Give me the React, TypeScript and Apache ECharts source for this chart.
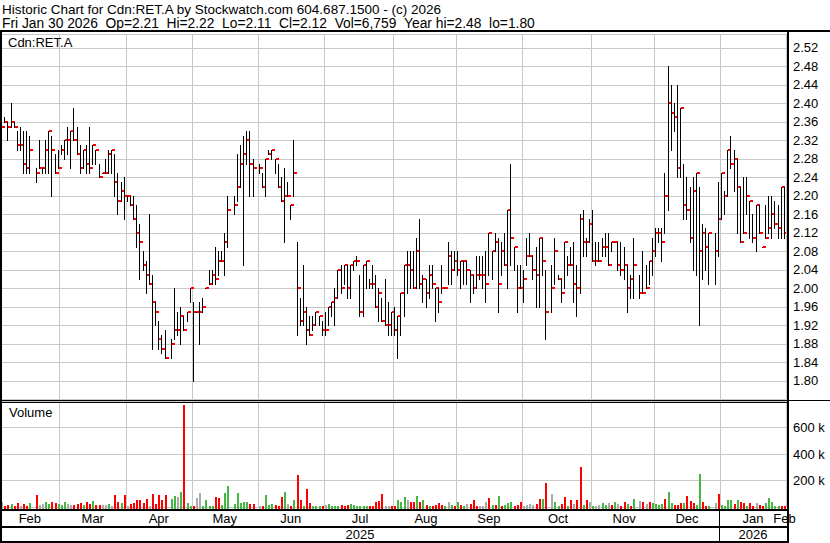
import React, { useEffect, useRef } from "react";
import * as echarts from "echarts";

// ---- texts ----
const titleLine1 = "Historic Chart for Cdn:RET.A by Stockwatch.com 604.687.1500 - (c) 2026";
const titleLine2 = "Fri Jan 30 2026  Op=2.21  Hi=2.22  Lo=2.11  Cl=2.12  Vol=6,759  Year hi=2.48  lo=1.80";
const symbolLabel = "Cdn:RET.A";
const volumeLabel = "Volume";

// ---- calendar (trading days per month, Feb 2025 .. Jan 2026) ----
const monthNames = ["Feb", "Mar", "Apr", "May", "Jun", "Jul", "Aug", "Sep", "Oct", "Nov", "Dec", "Jan"];
const monthDays = [19, 21, 21, 21, 21, 22, 20, 21, 22, 20, 21, 21];
const endMonthLabel = "Feb";
const yearLabels = ["2025", "2026"];

// ---- price axis ----
const priceMin = 1.76;
const priceMax = 2.55;
const priceStep = 0.04;
// ---- volume axis (thousands) ----
const volMin = 0;
const volMax = 800;
const volStep = 200;

// ---- daily highs / lows / closes (null = no trade) ----
const high = [
  2.39, 2.37, 2.36, 2.40, 2.36, 2.34, 2.35, 2.34, 2.34, 2.33, null, 2.26, 2.32, 2.26, 2.32, 2.34, 2.33, 2.29, 2.30,
  2.31, 2.32, 2.35, 2.34, 2.39, 2.35, 2.31, 2.30, 2.31, 2.35, 2.31, 2.30, 2.27, 2.25, 2.28, 2.30, 2.30, 2.29, 2.25, 2.23, 2.24,
  2.20, 2.20, 2.20, 2.18, 2.14, 2.08, 2.06, 2.16, 2.03, 1.97, 1.93, 1.90, 1.91, null, 1.89, 2.00, 1.95, 1.96, 1.94, 1.95, 2.00,
  1.97, 1.95, 1.97, 1.98, 2.00, 2.04, 2.04, 2.09, 2.08, 2.08, 2.12, 2.20, null, 2.20, 2.29, 2.31, 2.33, 2.34, 2.34, 2.28, null,
  2.27, 2.25, 2.28, 2.30, 2.30, 2.28, 2.27, 2.24, 2.26, 2.23, 2.18, 2.32, 2.10, 1.98, 2.05, 1.96, 1.94, 1.94, 1.95, 1.94, 1.93,
  1.95, 1.96, 1.97, 2.00, 2.04, 2.05, 2.05, 2.05, 2.05, 2.06, 2.07, 2.03, 2.05, 2.06, 2.02, 2.05, 2.03, 2.00, 1.98, 2.02, 1.97, 1.95,
  1.96, 1.94, 1.99, 2.05, 2.08, 2.08, 2.08, 2.11, 2.15, 2.03, 2.02, 2.05, 2.05, 2.00, 2.00, 2.05, 2.00, 2.10, 2.08, 2.08,
  2.08, 2.06, 2.06, 2.06, 2.04, 2.03, 2.07, 2.07, 2.07, 2.08, 2.12, 2.08, 2.12, 2.11, 2.10, 2.12, 2.17, 2.27, 2.09, 2.05, 2.05,
  2.04, 2.11, 2.12, 2.07, 2.09, 2.11, 2.11, 2.04, null, 2.05, 2.11, 2.03, 2.02, 2.10, 2.07, 2.09, 2.10, 2.05, 2.16, 2.17, 2.11, 2.15,
  2.17, 2.10, 2.10, 2.11, 2.12, 2.12, 2.10, 2.10, 2.10, 2.10, 2.09, 2.05, 2.03, 2.11, null, 2.03, 2.08, 2.05, 2.06, 2.11,
  2.13, 2.13, 2.13, 2.25, 2.48, 2.44, 2.40, 2.44, 2.39, 2.27, 2.24, 2.22, 2.24, 2.25, 2.22, 2.14, 2.13, 2.12, null, 2.12, 2.23,
  2.25, 2.21, 2.30, 2.33, 2.30, 2.28, 2.22, 2.24, 2.24, 2.19, 2.16, 2.18, 2.18, 2.09, 2.18, 2.20, 2.20, 2.19, 2.18, 2.22, 2.22,
];
const low = [
  2.27, 2.36, 2.32, 2.35, 2.35, 2.30, 2.30, 2.25, 2.25, 2.25, null, 2.23, 2.26, 2.25, 2.25, 2.25, 2.20, 2.25, 2.26,
  2.29, 2.28, 2.29, 2.26, 2.32, 2.29, 2.25, 2.26, 2.25, 2.25, 2.27, 2.27, 2.24, 2.25, 2.25, 2.25, 2.25, 2.20, 2.16, 2.19, 2.15,
  2.19, 2.18, 2.15, 2.09, 2.02, 2.04, 1.99, 2.01, 1.87, 1.92, 1.87, 1.86, 1.85, null, 1.85, 1.89, 1.90, 1.88, 1.91, 1.93, 1.97,
  1.80, 1.95, 1.88, 1.95, 2.00, 2.01, 2.01, 2.01, 2.03, 2.06, 2.03, 2.09, null, 2.16, 2.19, 2.22, 2.05, 2.27, 2.20, 2.20, null,
  2.25, 2.22, 2.20, 2.29, 2.28, 2.25, 2.22, 2.19, 2.10, 2.20, 2.15, 2.20, 1.90, 1.92, 1.92, 1.88, 1.90, 1.91, 1.92, 1.92, 1.90,
  1.90, 1.92, 1.94, 1.92, 1.98, 1.99, 2.01, 1.98, 1.98, 2.04, 2.05, 1.94, 1.94, 2.00, 2.00, 2.00, 1.96, 1.93, 1.93, 1.92, 1.90, 1.90,
  1.90, 1.85, 1.90, 1.94, 1.99, 2.00, 2.00, 2.00, 2.00, 1.97, 1.96, 1.98, 2.00, 1.93, 1.95, 1.99, 2.00, 2.01, 2.01, 2.04,
  2.03, 2.00, 2.01, 2.01, 1.97, 1.99, 2.00, 2.02, 2.00, 1.97, 2.03, 2.02, 2.08, 1.95, 2.03, 2.05, 2.00, 2.05, 2.04, 1.95, 2.00,
  1.97, 2.05, 2.07, 2.02, 1.96, 1.96, 2.03, 1.89, null, 1.95, 2.01, 2.02, 1.97, 2.00, 2.03, 2.05, 1.97, 1.94, 1.99, 2.07, 2.07, 2.10,
  2.06, 2.05, 2.06, 2.07, 2.07, 2.05, 2.08, 2.10, 2.04, 2.03, 2.02, 1.95, 1.98, 1.98, null, 1.98, 1.99, 2.00, 2.01, 2.03,
  2.07, 2.10, 2.06, 2.12, 2.17, 2.30, 2.34, 2.24, 2.24, 2.15, 2.15, 2.10, 2.04, 2.03, 1.92, 2.02, 2.04, 2.01, null, 2.01, 2.07,
  2.15, 2.16, 2.20, 2.26, 2.21, 2.12, 2.10, 2.12, 2.16, 2.11, 2.10, 2.08, 2.12, 2.09, 2.11, 2.12, 2.11, 2.13, 2.11, 2.11, 2.11,
];
const close = [
  2.35, 2.36, 2.35, 2.36, 2.35, 2.31, 2.31, 2.27, 2.26, 2.30, null, 2.25, 2.26, 2.26, 2.30, 2.34, 2.30, 2.25, 2.26,
  2.30, 2.32, 2.32, 2.34, 2.32, 2.29, 2.26, 2.30, 2.27, 2.26, 2.31, 2.30, 2.24, 2.25, 2.25, 2.29, 2.30, 2.23, 2.19, 2.21, 2.20,
  2.20, 2.18, 2.15, 2.12, 2.10, 2.05, 2.03, 2.01, 1.97, 1.95, 1.89, 1.87, 1.85, null, 1.88, 1.91, 1.91, 1.94, 1.91, 1.95, 2.00,
  1.95, 1.95, 1.95, 1.96, 2.00, 2.01, 2.03, 2.02, 2.06, 2.06, 2.10, 2.17, null, 2.18, 2.22, 2.27, 2.29, 2.32, 2.27, 2.26, null,
  2.26, 2.22, 2.28, 2.29, 2.30, 2.28, 2.22, 2.19, 2.20, 2.20, 2.18, 2.25, 2.00, 1.93, 1.95, 1.91, 1.90, 1.92, 1.95, 1.94, 1.91,
  1.91, 1.96, 1.97, 1.98, 2.04, 2.00, 2.05, 2.00, 2.05, 2.06, 2.06, 1.95, 2.05, 2.06, 2.01, 2.01, 1.96, 1.99, 1.93, 1.92, 1.92, 1.95,
  1.91, 1.94, 1.99, 2.05, 2.05, 2.04, 2.00, 2.08, 2.01, 2.02, 1.99, 2.03, 2.01, 2.00, 1.97, 2.00, 2.00, 2.07, 2.04, 2.06,
  2.04, 2.06, 2.06, 2.04, 2.03, 2.00, 2.03, 2.03, 2.03, 2.01, 2.12, 2.08, 2.10, 2.01, 2.08, 2.05, 2.17, 2.11, 2.09, 2.00, 2.00,
  2.02, 2.07, 2.07, 2.04, 2.03, 2.11, 2.06, 1.95, null, 2.00, 2.08, 2.02, 1.99, 2.10, 2.05, 2.05, 2.01, 2.00, 2.15, 2.10, 2.10, 2.14,
  2.06, 2.06, 2.06, 2.09, 2.09, 2.05, 2.10, 2.10, 2.05, 2.04, 2.05, 2.00, 2.02, 2.05, null, 1.99, 1.99, 2.00, 2.06, 2.08,
  2.12, 2.12, 2.10, 2.20, 2.40, 2.38, 2.37, 2.26, 2.39, 2.18, 2.17, 2.11, 2.21, 2.25, 2.08, 2.12, 2.09, 2.12, null, 2.08, 2.15,
  2.25, 2.20, 2.30, 2.27, 2.28, 2.22, 2.10, 2.12, 2.20, 2.19, 2.11, 2.18, 2.12, 2.09, 2.11, 2.13, 2.16, 2.14, 2.13, 2.22, 2.12,
];

// ---- daily volume (thousands) ----
const volume = [
  41, 10, 15, 21, 10, 28, 10, 21, 10, 28, null, 92, 15, 21, 36, 21, 41, 28, 21,
  15, 36, 21, 15, 15, 21, 28, 15, 36, 21, 46, 15, 15, 15, 15, 21, 10, 87, 36, 28, 92,
  5, 21, 28, 51, 51, 28, 62, 10, 97, 21, 92, 54, 92, null, 62, 82, 77, 113, 770, 28, 10,
  5, 67, 105, 10, 51, 10, 10, 77, 67, 15, 105, 159, null, 21, 105, 28, 41, 36, 21, 21, null,
  10, 10, 92, 15, 21, 15, 10, 77, 113, 21, 10, 51, 241, 51, 10, 136, 28, 10, 10, 10, 8,
  15, 21, 8, 8, 8, 13, 8, 13, 21, 15, 8, 8, 8, 8, 8, 10, 41, 46, 97, 10, 8, 8,
  5, 51, 36, 77, 51, 36, 36, 82, 41, 51, 15, 10, 10, 15, 28, 15, 10, 36, 15, 10,
  36, 15, 10, 21, 21, 51, 10, 10, 10, 36, 67, 15, 15, 82, 10, 15, 28, 36, 10, 15, 36,
  10, 15, 21, 15, 21, 59, 59, 182, null, 97, 41, 10, 21, 72, 10, 51, 21, 51, 305, 15, 51, 41,
  10, 10, 15, 28, 15, 28, 15, 36, 21, 10, 36, 21, 10, 59, null, 46, 36, 21, 36, 28,
  21, 15, 21, 59, 113, 28, 15, 15, 28, 28, 82, 46, 28, 15, 251, 36, 10, 10, null, 28, 97,
  15, 10, 51, 51, 21, 51, 41, 28, 10, 28, 10, 28, 15, 10, 28, 67, 41, 10, 10, 10, 7,
];
// volume bar colour per day: u = up (green), d = down (red), n = unchanged (grey), - = none
const volumeDirection = [
  "ndduddnddu-dnnuuddu",
  "uunndddudduddnnunddud",
  "nddddddnddddd-uunuduu",
  "dnnuuuudduuu-uuuuudd-",
  "nduuudddunduddudduuud",
  "nuuuuddduuuuuudddddnnd",
  "duuunddudududdddunudu",
  "dundddnnndududuuudddn",
  "nnnddudd-uuddudnddudnu",
  "nnuundundduduu-dnduu",
  "uuduuddduddduudduu-du",
  "uuududduddndduuuuuddd",
].join("");

const FONT = '"Liberation Sans", Arial, sans-serif';
const GRID_COLOR = "#c8c8c8";
const dirColor: Record<string, string> = { u: "#44b844", d: "#ff0000", n: "#aaaaaa", "-": "#aaaaaa" };

// keep runs of spaces visible in SVG text
const keepSpaces = (s: string) => s.replace(/ {2}/g, " \u00a0");

export default function App() {
  const ref = useRef<HTMLDivElement>(null);

  useEffect(() => {
    if (!ref.current) return;
    const chart = echarts.init(ref.current, null, { renderer: "svg" });

    const N = monthDays.reduce((a, b) => a + b, 0);
    const categories = Array.from({ length: N }, (_, i) => String(i));
    const monthStart: number[] = [];
    let acc = 0;
    monthDays.forEach((d) => {
      monthStart.push(acc);
      acc += d;
    });
    const startSet = new Set(monthStart);
    const labelAt: Record<number, string> = {};
    monthDays.forEach((d, m) => {
      labelAt[monthStart[m] + Math.floor(d / 2)] = monthNames[m];
    });
    labelAt[N - 1] = endMonthLabel;

    const priceData: number[][] = [];
    high.forEach((h, i) => {
      if (h != null && low[i] != null && close[i] != null) priceData.push([i, h, low[i] as number, close[i] as number]);
    });
    const volData: number[][] = [];
    volume.forEach((v, i) => {
      if (v != null) {
        const d = volumeDirection[i] || "n";
        volData.push([i, v, d === "u" ? 0 : d === "d" ? 1 : 2]);
      }
    });
    const volColors = [dirColor.u, dirColor.d, dirColor.n];

    const splitFn = (index: number) => startSet.has(index);

    const rect = (x: number, y: number, w: number, h: number, fill = "#000") => ({
      type: "rect",
      silent: true,
      z: 100,
      shape: { x, y, width: w, height: h },
      style: { fill },
    });
    const text = (x: number, y: number, t: string, size: number, align = "left", valign = "top") => ({
      type: "text",
      silent: true,
      z: 101,
      x,
      y,
      style: {
        text: t,
        font: `${size}px ${FONT}`,
        fill: "#000",
        textAlign: align,
        textVerticalAlign: valign,
        align,
        verticalAlign: valign,
      },
    });

    const option: any = {
      animation: false,
      backgroundColor: "#ffffff",
      grid: [
        { left: 0, right: 44, top: 34, height: 365.5 },
        { left: 0, right: 44, top: 401, height: 106 },
      ],
      xAxis: [
        {
          type: "category",
          gridIndex: 0,
          data: categories,
          boundaryGap: true,
          axisLine: { show: false },
          axisTick: { show: false },
          axisLabel: { show: false },
          splitLine: { show: true, interval: splitFn, lineStyle: { color: GRID_COLOR, width: 1 } },
        },
        {
          type: "category",
          gridIndex: 1,
          data: categories,
          boundaryGap: true,
          axisLine: { show: false },
          axisTick: { show: false },
          axisLabel: {
            show: true,
            interval: (index: number) => labelAt[index] !== undefined,
            formatter: (_v: string, index: number) => labelAt[index] || "",
            margin: 5,
            color: "#000",
            fontSize: 13,
            fontFamily: FONT,
          },
          splitLine: { show: true, interval: splitFn, lineStyle: { color: GRID_COLOR, width: 1 } },
        },
      ],
      yAxis: [
        {
          type: "value",
          gridIndex: 0,
          position: "right",
          min: priceMin,
          max: priceMax,
          interval: priceStep,
          axisLine: { show: false },
          axisTick: { show: false },
          axisLabel: {
            showMinLabel: false,
            showMaxLabel: false,
            formatter: (v: number) => v.toFixed(2),
            margin: 7,
            color: "#000",
            fontSize: 13,
            fontFamily: FONT,
          },
          splitLine: { show: true, lineStyle: { color: GRID_COLOR, width: 1 } },
        },
        {
          type: "value",
          gridIndex: 1,
          position: "right",
          min: volMin,
          max: volMax,
          interval: volStep,
          axisLine: { show: false },
          axisTick: { show: false },
          axisLabel: {
            showMinLabel: false,
            showMaxLabel: false,
            formatter: (v: number) => `${v} k`,
            margin: 7,
            color: "#000",
            fontSize: 13,
            fontFamily: FONT,
          },
          splitLine: { show: true, lineStyle: { color: GRID_COLOR, width: 1 } },
        },
      ],
      series: [
        {
          type: "custom",
          name: "price",
          xAxisIndex: 0,
          yAxisIndex: 0,
          clip: true,
          encode: { x: 0, y: [1, 2, 3] },
          data: priceData,
          renderItem: (_params: any, api: any) => {
            const i = api.value(0);
            const pH = api.coord([i, api.value(1)]);
            const pL = api.coord([i, api.value(2)]);
            const pC = api.coord([i, api.value(3)]);
            const x = Math.floor(pH[0]);
            const yTop = Math.round(pH[1]);
            const yBot = Math.round(pL[1]);
            const yC = Math.round(pC[1]);
            return {
              type: "group",
              children: [
                {
                  type: "rect",
                  shape: { x, y: yTop, width: 1, height: Math.max(1, yBot - yTop + 1) },
                  style: { fill: "#000000" },
                },
                {
                  type: "rect",
                  shape: { x: x + 1, y: yC - 1, width: 3, height: 2 },
                  style: { fill: "#ff0000" },
                },
              ],
            };
          },
        },
        {
          type: "custom",
          name: "volume",
          xAxisIndex: 1,
          yAxisIndex: 1,
          clip: false,
          encode: { x: 0, y: 1 },
          data: volData,
          renderItem: (_params: any, api: any) => {
            const i = api.value(0);
            const top = api.coord([i, api.value(1)]);
            const base = api.coord([i, 0]);
            const x = Math.floor(top[0]);
            const y = Math.round(top[1]);
            const bottom = Math.round(base[1]) + 2;
            return {
              type: "rect",
              shape: { x, y, width: 2, height: Math.max(1, bottom - y) },
              style: { fill: volColors[api.value(2)] },
            };
          },
        },
      ],
      graphic: [
        text(2, 2, titleLine1, 13.5),
        text(2, 16, keepSpaces(titleLine2), 13.8),
        rect(0, 30, 830, 2),
        rect(0, 30, 2, 513),
        rect(787, 30, 2, 513),
        rect(0, 400, 787, 1),
        rect(0, 402, 787, 1),
        rect(789, 400, 41, 1),
        rect(0, 509, 787, 2),
        rect(0, 526, 787, 2),
        rect(0, 541, 787, 2),
        rect(719, 511, 1, 30),
        text(8, 36, symbolLabel, 13),
        text(9, 406, volumeLabel, 13),
        text(360, 534, yearLabels[0], 13, "center", "middle"),
        text(753, 534, yearLabels[1], 13, "center", "middle"),
      ],
    };

    chart.setOption(option);
    return () => chart.dispose();
  }, []);

  return (
    <div
      ref={ref}
      style={{ width: 830, height: 543, position: "absolute", left: 0, top: 0, background: "#fff" }}
    />
  );
}
